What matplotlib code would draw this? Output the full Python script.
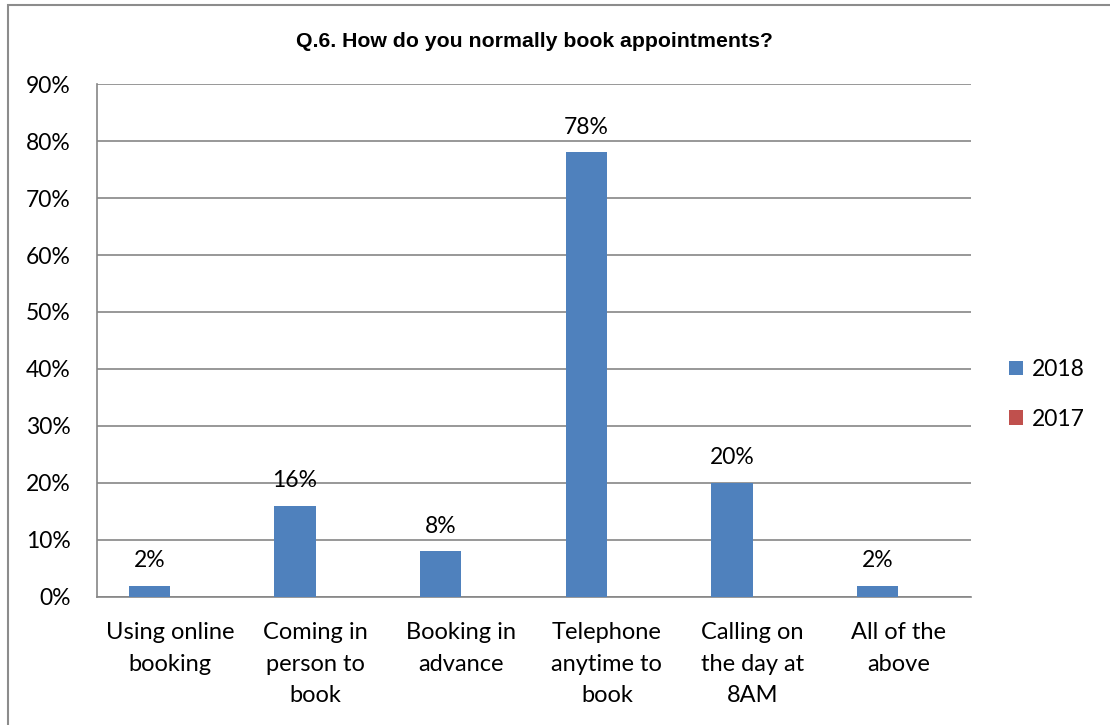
import matplotlib.pyplot as plt
import numpy as np
from matplotlib.patches import Rectangle

categories = [
    "Using online\nbooking",
    "Coming in\nperson to\nbook",
    "Booking in\nadvance",
    "Telephone\nanytime to\nbook",
    "Calling on\nthe day at\n8AM",
    "All of the\nabove",
]
values_2018 = [0.02, 0.16, 0.08, 0.78, 0.20, 0.02]
values_2017 = [0, 0, 0, 0, 0, 0]
series_names = ["2018", "2017"]
yticks = [0.0, 0.1, 0.2, 0.3, 0.4, 0.5, 0.6, 0.7, 0.8, 0.9]

BLUE = "#4F81BD"
RED = "#C0504D"
GRID = "#868686"
FS = 16.5

plt.rcParams["font.family"] = ["Lato", "DejaVu Sans"]

fig = plt.figure(figsize=(11.1, 7.25), dpi=100)
ax = fig.add_axes([0.0874, 0.1766, 0.7874, 0.7075])

x = np.arange(len(categories))
width = 0.282
bars = ax.bar(x - width / 2, values_2018, width, color=BLUE, label=series_names[0], zorder=3)
ax.bar(x + width / 2, values_2017, width, color=RED, label=series_names[1], zorder=3)

for rect, v in zip(bars, values_2018):
    ax.annotate(
        f"{v:.0%}",
        xy=(rect.get_x() + rect.get_width() / 2, v),
        xytext=(0, 18),
        textcoords="offset points",
        ha="center",
        va="center",
        fontsize=FS,
    )

ax.set_xlim(-0.5, len(categories) - 0.5)
ax.set_ylim(0, 0.9)
ax.set_yticks(yticks)
ax.set_yticklabels([f"{t:.0%}" for t in yticks], fontsize=FS)
ax.set_xticks(x)
ax.set_xticklabels(categories, fontsize=FS + 0.5, linespacing=1.63, va="top")
ax.tick_params(axis="both", length=0)
ax.tick_params(axis="y", pad=19)
ax.tick_params(axis="x", pad=18)
ax.yaxis.grid(True, color=GRID, linewidth=1.2, zorder=0)
for side in ("top", "right"):
    ax.spines[side].set_visible(False)
for side in ("left", "bottom"):
    ax.spines[side].set_color(GRID)
    ax.spines[side].set_linewidth(1.2)

ax.set_title(
    "Q.6. How do you normally book appointments?",
    fontsize=15.3,
    fontweight="bold",
    family=["Liberation Sans", "DejaVu Sans"],
    pad=27,
)

ax.legend(
    loc="center left",
    bbox_to_anchor=(1.02, 0.395),
    frameon=False,
    fontsize=FS,
    handlelength=0.6,
    handleheight=0.6,
    handletextpad=0.4,
    labelspacing=1.25,
)

# chart frame, running past the right and bottom edges
fig.patches.append(
    Rectangle((8 / 1110, -0.1), 1.2, (725 - 5) / 725 + 0.1, transform=fig.transFigure,
              fill=False, edgecolor="#8C8C8C", linewidth=1.5)
)

fig.savefig("out.png", dpi=100, facecolor="white")
